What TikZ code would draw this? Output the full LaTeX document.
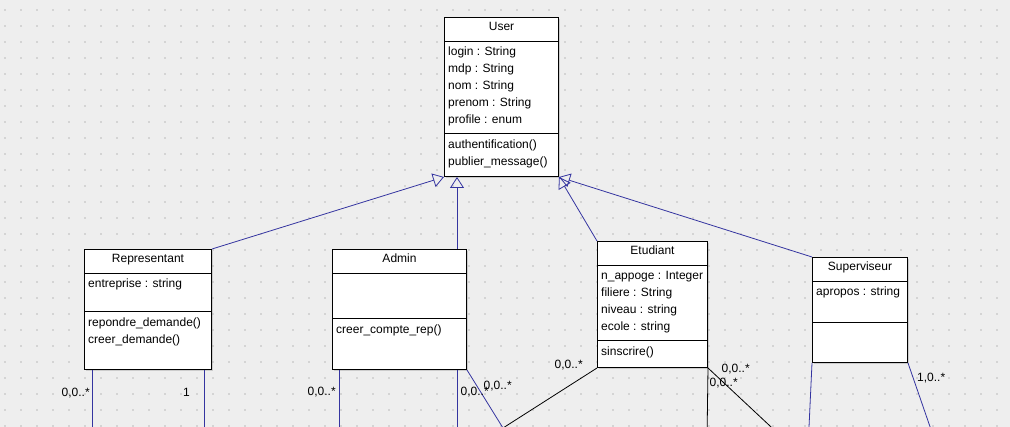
\documentclass[tikz,border=0pt]{standalone}
\usepackage{fontspec}
\setmainfont{Liberation Sans}
\usetikzlibrary{positioning}
\usetikzlibrary{arrows.meta}
\usetikzlibrary{shadows}

\definecolor{fond}{HTML}{EEEEEE}
\definecolor{points}{HTML}{D4D4D4}
\definecolor{lienbleu}{HTML}{3434A0}

\tikzset{
  classe/.style={draw, fill=white, line width=1pt, anchor=north west, inner sep=0pt,
    drop shadow={shadow xshift=1.5pt, shadow yshift=-1.5pt, opacity=0.3}},
  txt/.style={inner sep=0pt, font=\fontsize{12}{17}\selectfont},
  herite/.style={draw=lienbleu, line width=0.8pt, -{Triangle[open, length=11pt, width=14pt]}},
  assoc/.style={draw=lienbleu, line width=0.8pt},
  assocnoir/.style={draw=black, line width=0.8pt},
  card/.style={txt, anchor=base west}
}

% nom, position, largeur, hauteur, separation, titre, attributs, methodes
\newcommand{\classe}[8]{%
  \node[classe, minimum width=#3, minimum height=#4] (#1) at #2 {};
  \draw[line width=1pt] ([yshift=-24.5]#1.north west) -- ([yshift=-24.5]#1.north east);
  \draw[line width=1pt] ([yshift=-#5]#1.north west) -- ([yshift=-#5]#1.north east);
  \node[txt, anchor=base] (#1-titre) at ([yshift=-14]#1.north) {#6};
  \foreach \a [count=\i] in {#7}
    \node[txt, anchor=base west] (#1-a\i) at ([xshift=4, yshift={-38.5-17*(\i-1)}]#1.north west) {\a};
  \foreach \m [count=\i] in {#8}
    \node[txt, anchor=base west] (#1-m\i) at ([xshift=4, yshift={-#5-14.7-17*(\i-1)}]#1.north west) {\m};
}

\begin{document}
\begin{tikzpicture}[x=1pt, y=-1pt]
  \useasboundingbox (0,0) rectangle (1010,427);
  \clip (0,0) rectangle (1010,427);
  \fill[fond] (0,0) rectangle (1010,427);
  \foreach \i in {0,...,62}
    \foreach \j in {0,...,26}
      \fill[points] (4+16*\i, 9+16*\j) rectangle ++(2,2);

  \classe{user}{(444,17)}{114}{159}{117}{User}
    {login : String, mdp : String, nom : String, prenom : String, profile : enum}
    {authentification(), publier\_message()}
  \classe{rep}{(84,249)}{127}{120}{63}{Representant}
    {entreprise : string}
    {repondre\_demande(), creer\_demande()}
  \classe{admin}{(332,249)}{134}{120}{70}{Admin}
    {}
    {creer\_compte\_rep()}
  \classe{etud}{(597,241)}{110}{126}{100}{Etudiant}
    {n\_appoge : Integer, filiere : String, niveau : string, ecole : string}
    {sinscrire()}
  \classe{sup}{(812,257)}{95}{105}{66}{Superviseur}
    {apropos : string}
    {}

  % heritage
  \draw[herite] (rep.north east) -- (user.south west);
  \draw[herite] ([xshift=125]admin.north west) -- ([xshift=13]user.south west);
  \draw[herite] (etud.north west) -- (user.south east);
  \draw[herite] (sup.north west) -- (user.south east);

  % associations vers le bas
  \coordinate (r1) at (92,440);
  \coordinate (r2) at (204,440);
  \coordinate (a1) at (339,440);
  \coordinate (a2) at (457,440);
  \coordinate (ae) at (503,428);
  \coordinate (e1) at (707,440);
  \coordinate (e2) at (785,440);
  \coordinate (s1) at (808.4,440);
  \coordinate (s2) at (934.6,440);

  \draw[assoc] ([xshift=8]rep.south west) -- (r1);
  \draw[assoc] ([xshift=120]rep.south west) -- (r2);
  \draw[assoc] ([xshift=7]admin.south west) -- (a1);
  \draw[assoc] ([xshift=125]admin.south west) -- (a2);
  \draw[assoc] (admin.south east) -- (ae);
  \draw[assocnoir] (etud.south west) -- (ae);
  \draw[assocnoir] (etud.south east) -- (e1);
  \draw[assocnoir] (etud.south east) -- (e2);
  \draw[assoc] (sup.south west) -- (s1);
  \draw[assoc] (sup.south east) -- (s2);

  % cardinalites
  \node[card] (c1) at (61.5,397) {0,0..*};
  \node[card] (c2) at (183,397) {1};
  \node[card] (c3) at (307.5,395.5) {0,0..*};
  \node[card] (c4) at (460.5,395.5) {0,0..*};
  \node[card] (c5) at (483.5,389.5) {0,0..*};
  \node[card] (c6) at (554.5,369) {0,0..*};
  \node[card] (c7) at (721.5,372.7) {0,0..*};
  \node[card] (c8) at (709.5,386.7) {0,0..*};
  \node[card] (c9) at (917,382) {1,0..*};
\end{tikzpicture}
\end{document}
